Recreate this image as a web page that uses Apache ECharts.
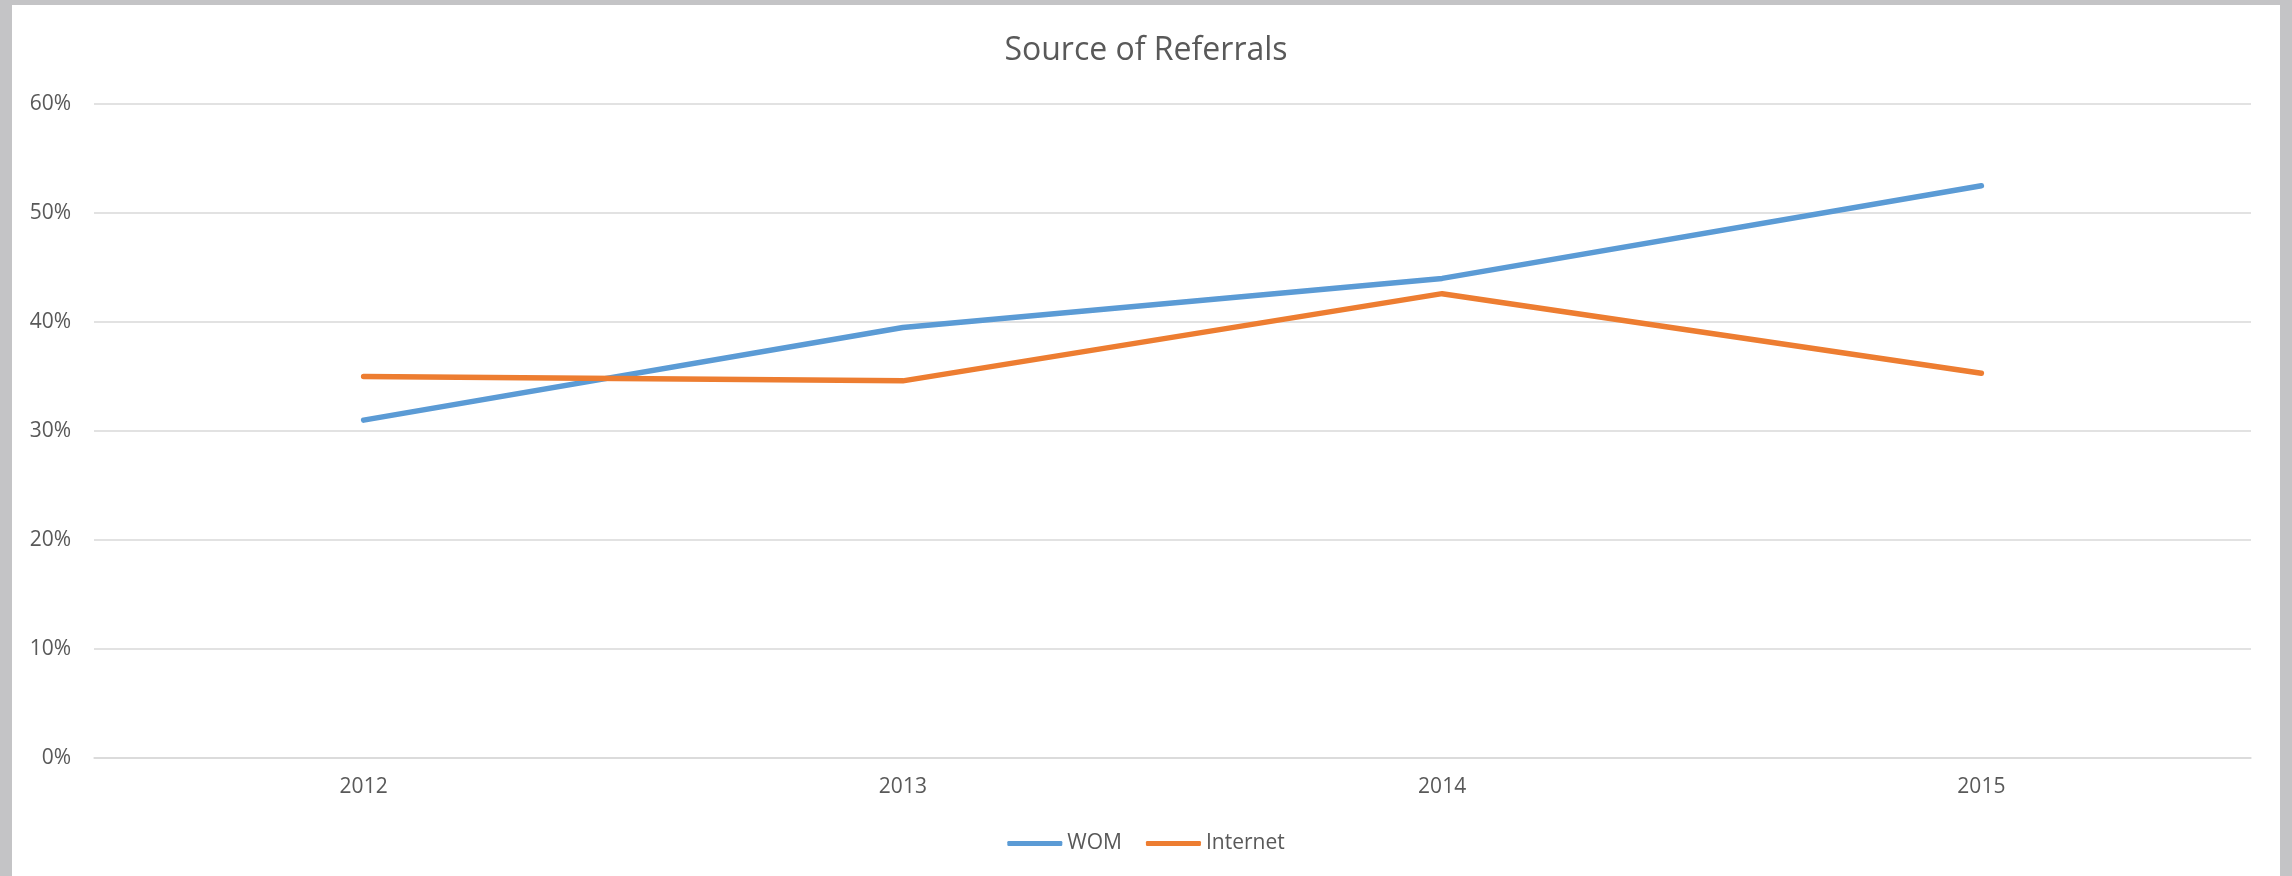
<!DOCTYPE html>
<html>
<head>
<meta charset="utf-8">
<title>Source of Referrals</title>
<script src="https://cdn.jsdelivr.net/npm/echarts@6/dist/echarts.min.js"></script>
<style>
  html, body { margin: 0; padding: 0; }
  body { width: 2292px; height: 876px; background: #c4c4c6; position: relative; overflow: hidden; }
  #panel { position: absolute; left: 12px; top: 5px; width: 2268px; height: 871px; background: #fff; }
  #chart { position: absolute; left: 0; top: 0; width: 2292px; height: 876px; }
</style>
</head>
<body>
<div id="panel"></div>
<div id="chart"></div>
<script>
const years = ["2012", "2013", "2014", "2015"];
const womValues = [31.0, 39.5, 44.0, 52.5];
const internetValues = [35.0, 34.6, 42.6, 35.3];

const textColor = "#595959";
const gridColor = "#d9d9d9";
const fontFamily = "'Open Sans', sans-serif";

const chart = echarts.init(document.getElementById("chart"));

chart.setOption({
  backgroundColor: "transparent",
  animation: false,
  textStyle: { fontFamily, color: textColor },
  title: {
    text: "Source of Referrals",
    left: "center",
    top: 30,
    textStyle: { fontFamily, fontSize: 32, fontWeight: "normal", color: textColor },
  },
  legend: {
    data: ["WOM", "Internet"],
    left: "center",
    top: 828,
    icon: "roundRect",
    itemWidth: 55,
    itemHeight: 5,
    itemGap: 24,
    textStyle: { fontFamily, fontSize: 21, color: textColor },
  },
  grid: { left: 94, right: 41, top: 104, bottom: 118 },
  xAxis: {
    type: "category",
    data: years,
    boundaryGap: true,
    axisLine: { lineStyle: { color: gridColor, width: 1.5 } },
    axisTick: { show: false },
    axisLabel: { color: textColor, fontSize: 21, margin: 19 },
  },
  yAxis: {
    type: "value",
    min: 0,
    max: 60,
    interval: 10,
    axisLine: { show: false },
    axisTick: { show: false },
    axisLabel: { color: textColor, fontSize: 21, margin: 23, formatter: "{value}%" },
    splitLine: { lineStyle: { color: gridColor, width: 1.5 } },
  },
  series: [
    {
      name: "WOM",
      type: "line",
      data: womValues,
      showSymbol: false,
      symbol: "none",
      color: "#5b9bd5",
      lineStyle: { width: 5.5, cap: "round", join: "round" },
    },
    {
      name: "Internet",
      type: "line",
      data: internetValues,
      showSymbol: false,
      symbol: "none",
      color: "#ed7d31",
      lineStyle: { width: 5.5, cap: "round", join: "round" },
    },
  ],
});
</script>
</body>
</html>
